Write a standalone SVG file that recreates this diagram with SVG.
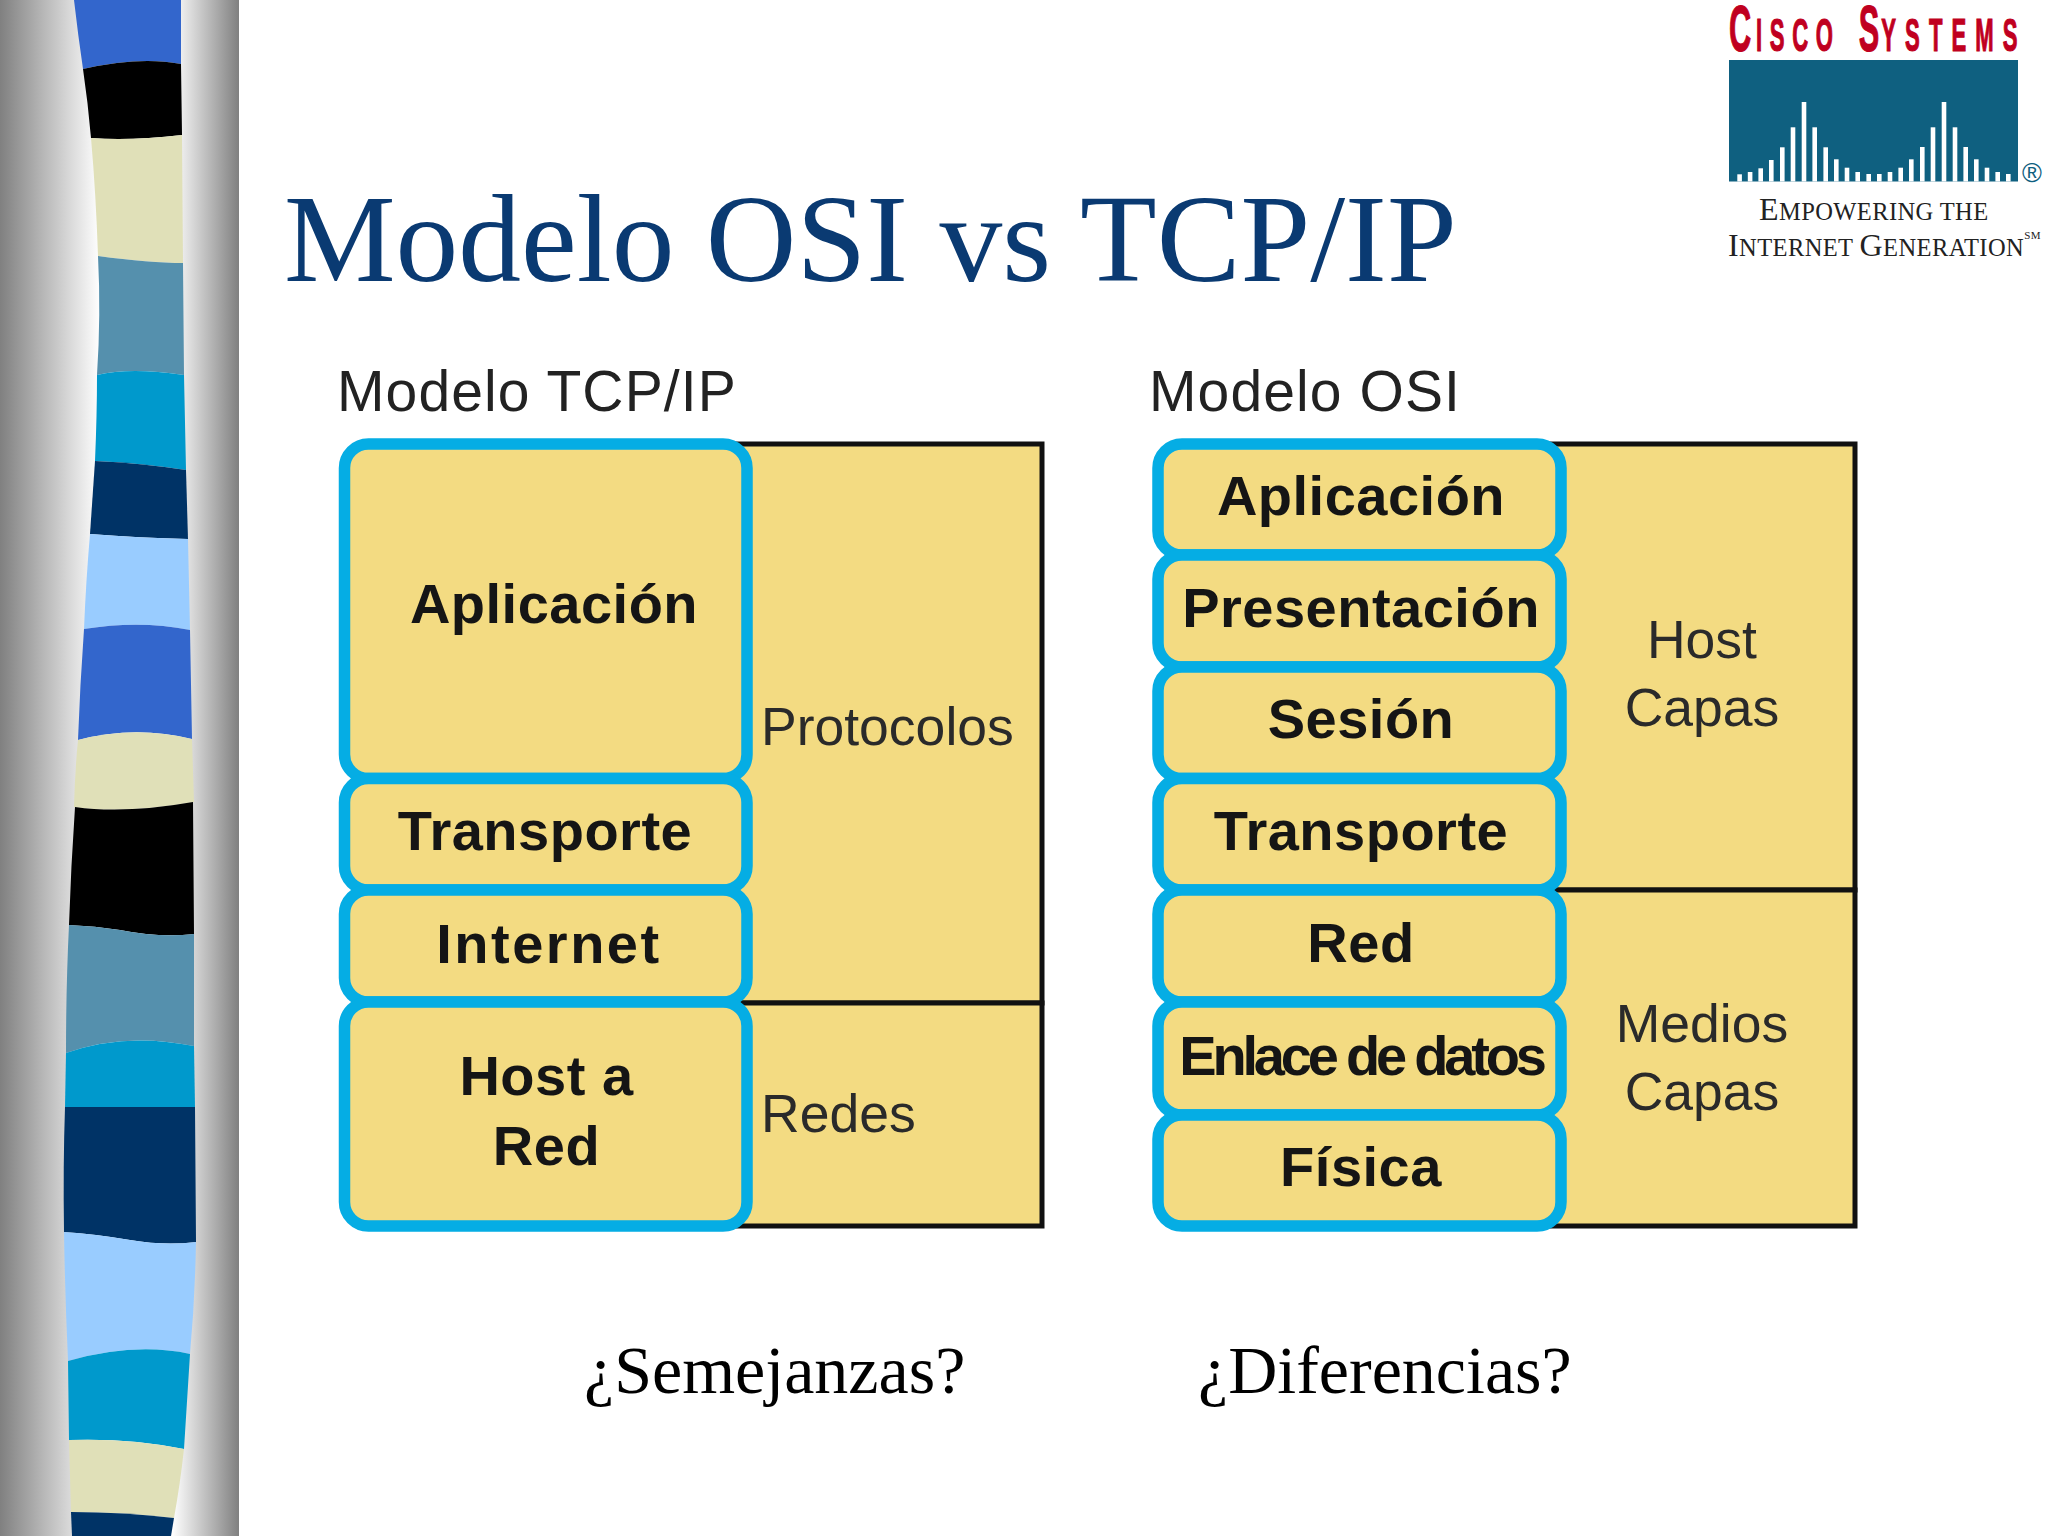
<svg xmlns="http://www.w3.org/2000/svg" width="2048" height="1536" viewBox="0 0 2048 1536">
<style>
.sans{font-family:"Liberation Sans",Arial,sans-serif}
.serif{font-family:"Liberation Serif","Times New Roman",serif}
.layer{fill:#f3db82;stroke:#05ade4;stroke-width:11.5}
.panel{fill:#f3db82;stroke:#111;stroke-width:5}
.b{font-family:"Liberation Sans",Arial,sans-serif;font-weight:700;font-size:56px;letter-spacing:.5px;fill:#151515;text-anchor:middle}
.r{font-family:"Liberation Sans",Arial,sans-serif;font-size:53.5px;fill:#2a2a2a}
.m{text-anchor:middle}
.h{font-family:"Liberation Sans",Arial,sans-serif;font-size:57px;letter-spacing:1.1px;fill:#222}
.q{font-family:"Liberation Serif","Times New Roman",serif;font-size:68px;fill:#000}
.bar{fill:#fff}
</style>
<defs>
<linearGradient id="gl" x1="0" x2="1" y1="0" y2="0"><stop offset="0" stop-color="#808080"/><stop offset="1" stop-color="#ffffff"/></linearGradient>
<linearGradient id="gr" x1="0" x2="1" y1="0" y2="0"><stop offset="0" stop-color="#ffffff"/><stop offset="1" stop-color="#808080"/></linearGradient>
</defs>
<rect width="2048" height="1536" fill="#fff"/>
<g id="sidebar">
<rect x="0" y="0" width="100" height="1536" fill="url(#gl)"/>
<rect x="172" y="0" width="67" height="1536" fill="url(#gr)"/>
<path fill="#3366cc" d="M74 0H181L181 64Q140 56 83 69Q78 35 74 0Z"/>
<path fill="#000" d="M83 69Q140 56 181 64L182 135Q130 141 91 138Q88 103 83 69Z"/>
<path fill="#e0e0b8" d="M91 138Q130 141 182 135L183 263Q150 263 98 256Q96 195 91 138Z"/>
<path fill="#5590ad" d="M98 256Q150 263 183 263L184 375Q130 367 97 375Q101 315 98 256Z"/>
<path fill="#0099cc" d="M97 375Q130 367 184 375L186 470Q140 463 95 461Q97 415 97 375Z"/>
<path fill="#003366" d="M95 461Q140 463 186 470L188 539Q140 538 90 534Z"/>
<path fill="#99ccff" d="M90 534Q140 538 188 539L190 630Q140 620 84 629Q86 580 90 534Z"/>
<path fill="#3366cc" d="M84 629Q140 620 190 630L192 739Q135 725 78 740Q80 685 84 629Z"/>
<path fill="#e0e0b8" d="M78 740Q135 725 192 739L194 802Q125 814 74 807Q75 770 78 740Z"/>
<path fill="#000" d="M75 807Q125 814 193 802L194 934Q160 938 120 930Q95 926 69 925Q71 865 75 807Z"/>
<path fill="#5590ad" d="M69 925Q95 926 120 930Q160 938 194 934L194 1046Q125 1032 66 1053Q66 985 69 925Z"/>
<path fill="#0099cc" d="M66 1053Q125 1032 194 1046L195 1107H65Z"/>
<path fill="#003366" d="M65 1107H195L196 1242Q165 1246 130 1240Q95 1234 64 1232Q63 1165 65 1107Z"/>
<path fill="#99ccff" d="M64 1232Q95 1234 130 1240Q165 1246 196 1242Q195 1300 190 1354Q135 1342 68 1361Q65 1295 64 1232Z"/>
<path fill="#0099cc" d="M68 1361Q135 1342 190 1354L184 1449Q130 1438 69 1440Z"/>
<path fill="#e0e0b8" d="M69 1440Q130 1438 184 1449Q180 1485 174 1518Q125 1512 71 1512Z"/>
<path fill="#003366" d="M71 1512Q125 1512 174 1518L171 1536H72Z"/>
</g>
<text id="title" class="serif" x="284" y="281" font-size="125.5" fill="#0a3a72">Modelo OSI vs TCP/IP</text>
<g id="logo">
<text class="sans" transform="translate(1729,51) scale(.48,1)" font-weight="700" font-size="64" fill="#c00020" stroke="#c00020" stroke-width="1.2" letter-spacing="10">C<tspan font-size="46" letter-spacing="16">ISCO</tspan><tspan font-size="46" letter-spacing="25"> </tspan><tspan letter-spacing="4">S</tspan><tspan font-size="46" letter-spacing="19">YSTEMS</tspan></text>
<rect x="1729" y="60" width="289" height="121.5" fill="#0f6080"/>
<g class="bar">
<rect x="1737.3" y="174.3" width="4.6" height="7.2"/><rect x="1747.8" y="172" width="4.6" height="9.5"/><rect x="1758.4" y="168.3" width="4.6" height="13.2"/><rect x="1769" y="160" width="4.6" height="21.5"/><rect x="1780" y="147.3" width="4.6" height="34.2"/><rect x="1790.7" y="127.3" width="4.6" height="54.2"/><rect x="1801.7" y="102" width="4.6" height="79.5"/><rect x="1812.4" y="127.3" width="4.6" height="54.2"/><rect x="1823.4" y="147.3" width="4.6" height="34.2"/><rect x="1834" y="159.3" width="4.6" height="22.2"/><rect x="1844.7" y="167.7" width="4.6" height="13.8"/><rect x="1855.4" y="172" width="4.6" height="9.5"/><rect x="1866.4" y="174" width="4.6" height="7.5"/><rect x="1877" y="174" width="4.6" height="7.5"/><rect x="1887.7" y="172" width="4.6" height="9.5"/><rect x="1898.4" y="167.7" width="4.6" height="13.8"/><rect x="1909" y="159.3" width="4.6" height="22.2"/><rect x="1920" y="147" width="4.6" height="34.5"/><rect x="1930.7" y="127.3" width="4.6" height="54.2"/><rect x="1941.7" y="102" width="4.6" height="79.5"/><rect x="1952.7" y="127.3" width="4.6" height="54.2"/><rect x="1963.4" y="147" width="4.6" height="34.5"/><rect x="1974" y="159.3" width="4.6" height="22.2"/><rect x="1984.7" y="167.7" width="4.6" height="13.8"/><rect x="1995.4" y="172" width="4.6" height="9.5"/><rect x="2006" y="174" width="4.6" height="7.5"/>
</g>
<text class="sans" x="2032" y="182" font-size="27" fill="#0f6080" text-anchor="middle">®</text>
<text class="serif" x="1759" y="220" font-size="32" fill="#222" letter-spacing=".4">E<tspan font-size="24.5">MPOWERING THE</tspan></text>
<text class="serif" x="1728" y="256" font-size="32" fill="#222" letter-spacing=".4">I<tspan font-size="24.5">NTERNET </tspan>G<tspan font-size="24.5">ENERATION</tspan><tspan font-size="11" dy="-17">SM</tspan></text>
</g>
<text id="label-tcp" class="h" x="337" y="411">Modelo TCP/IP</text>
<text id="label-osi" class="h" x="1149" y="411">Modelo OSI</text>

<g id="tcp-panel-protocolos">
<rect class="panel" x="720" y="444" width="322" height="559"/>
<text class="r" x="761" y="745">Protocolos</text>
</g>
<g id="tcp-panel-redes">
<rect class="panel" x="720" y="1003" width="322" height="223"/>
<text class="r" x="761" y="1132">Redes</text>
</g>
<g id="tcp-aplicacion"><rect class="layer" x="344.5" y="444" width="402.5" height="334.5" rx="24"/><text class="b" x="554" y="623">Aplicación</text></g>
<g id="tcp-transporte"><rect class="layer" x="344.5" y="778.5" width="402.5" height="111.5" rx="24"/><text class="b" x="545" y="850">Transporte</text></g>
<g id="tcp-internet"><rect class="layer" x="344.5" y="890" width="402.5" height="112" rx="24"/><text class="b" x="549" y="963" style="letter-spacing:2.5px">Internet</text></g>
<g id="tcp-host-a-red"><rect class="layer" x="344.5" y="1002" width="402.5" height="224" rx="24"/><text class="b" x="546.5" y="1095">Host a</text><text class="b" x="546.5" y="1165">Red</text></g>

<g id="osi-panel-host">
<rect class="panel" x="1530" y="444" width="325" height="446"/>
<text class="r m" x="1702" y="657.5">Host</text>
<text class="r m" x="1702" y="725.5">Capas</text>
</g>
<g id="osi-panel-medios">
<rect class="panel" x="1530" y="890" width="325" height="336"/>
<text class="r m" x="1702" y="1042">Medios</text>
<text class="r m" x="1702" y="1110">Capas</text>
</g>
<g id="osi-aplicacion"><rect class="layer" x="1158" y="444" width="403" height="111" rx="24"/><text class="b" x="1361" y="515">Aplicación</text></g>
<g id="osi-presentacion"><rect class="layer" x="1158" y="555" width="403" height="112" rx="24"/><text class="b" x="1361" y="627">Presentación</text></g>
<g id="osi-sesion"><rect class="layer" x="1158" y="667" width="403" height="111.5" rx="24"/><text class="b" x="1361" y="738">Sesión</text></g>
<g id="osi-transporte"><rect class="layer" x="1158" y="778.5" width="403" height="111.5" rx="24"/><text class="b" x="1361" y="850">Transporte</text></g>
<g id="osi-red"><rect class="layer" x="1158" y="890" width="403" height="112" rx="24"/><text class="b" x="1361" y="961.5">Red</text></g>
<g id="osi-enlace"><rect class="layer" x="1158" y="1002" width="403" height="113" rx="24"/><text class="b" x="1361" y="1075" style="letter-spacing:-4.2px">Enlace de datos</text></g>
<g id="osi-fisica"><rect class="layer" x="1158" y="1115" width="403" height="111" rx="24"/><text class="b" x="1361" y="1186">Física</text></g>

<text id="semejanzas" class="q" x="584" y="1393">¿Semejanzas?</text>
<text id="diferencias" class="q" x="1198" y="1393">¿Diferencias?</text>
</svg>
